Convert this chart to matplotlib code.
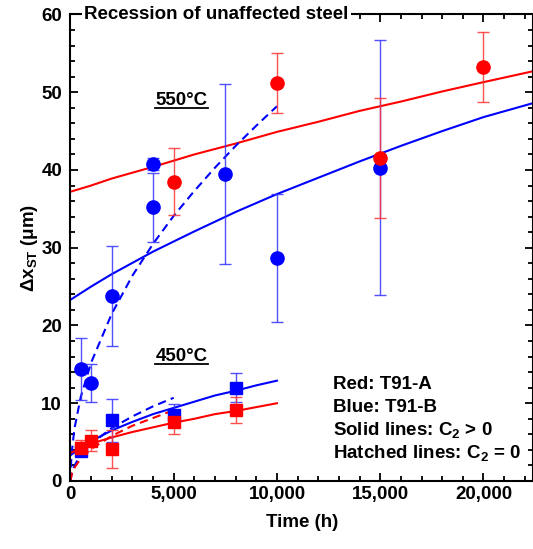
import matplotlib
matplotlib.use("Agg")
import matplotlib.pyplot as plt
from matplotlib.ticker import MultipleLocator, StrMethodFormatter
from matplotlib.lines import Line2D

plt.rcParams['font.family'] = ['Liberation Sans', 'DejaVu Sans']
plt.rcParams['font.weight'] = 'bold'
plt.rcParams['mathtext.fontset'] = 'custom'
plt.rcParams['mathtext.rm'] = 'Liberation Sans:bold'
plt.rcParams['mathtext.bf'] = 'Liberation Sans:bold'
plt.rcParams['mathtext.it'] = 'Liberation Sans:bold'

# measured recession at 550 C (time in h, recession in um, +/- error)
t_550_b = [500, 1000, 2000, 4000, 4000, 7500, 10000, 15000]
y_550_b = [14.4, 12.6, 23.8, 40.8, 35.2, 39.5, 28.7, 40.3]
e_550_b = [4.0, 2.5, 6.4, 0.8, 4.4, 11.6, 8.2, 16.4]

t_550_a = [5000, 10000, 15000, 20000]
y_550_a = [38.5, 51.2, 41.5, 53.2]
e_550_a = [4.3, 3.9, 7.7, 4.5]

# measured recession at 450 C
t_450_b = [500, 2000, 5000, 8000]
y_450_b = [3.9, 7.8, 8.5, 12.0]
e_450_b = [0.5, 2.8, 1.4, 1.9]

t_450_a = [500, 1000, 2000, 5000, 8000]
y_450_a = [4.3, 5.2, 4.1, 7.6, 9.1]
e_450_a = [1.0, 1.4, 2.4, 1.5, 1.65]

# fitted curves
fit_t_550 = [0, 1000, 2000, 4000, 6000, 8000, 10000, 12000, 14000, 16000, 18000, 20000, 22400]
fit_550_a = [37.2, 38.0, 38.9, 40.4, 42.0, 43.4, 44.9, 46.2, 47.6, 48.8, 50.1, 51.3, 52.7]
fit_550_b = [23.3, 25.0, 26.6, 29.5, 32.1, 34.6, 36.9, 39.0, 41.1, 43.1, 45.0, 46.8, 48.6]

dash_t_550 = [0, 50, 200, 500, 1000, 2000, 3000, 4000, 5000, 6000, 7000, 8000, 9000, 10000]
dash_550_b = [0, 3.4, 6.8, 10.8, 15.2, 21.5, 26.4, 30.5, 34.1, 37.3, 40.3, 43.1, 45.7, 48.2]

fit_t_450 = [0, 500, 1000, 2000, 3000, 4000, 5000, 6000, 7000, 8000, 9000, 10000]
fit_450_b = [3.3, 4.3, 5.1, 6.5, 7.6, 8.6, 9.4, 10.2, 11.0, 11.6, 12.3, 12.9]
fit_450_a = [3.6, 4.2, 4.8, 5.6, 6.3, 6.9, 7.5, 8.0, 8.6, 9.0, 9.5, 10.0]

dash_t_450 = [0, 100, 500, 1000, 2000, 3000, 4000, 5000]
dash_450_b = [0, 1.5, 3.4, 4.8, 6.8, 8.3, 9.6, 10.7]
dash_450_a = [0, 1.3, 2.9, 4.1, 5.8, 7.1, 8.1, 9.1]

legend_lines = ["Red: T91-A", "Blue: T91-B",
                r"Solid lines: C$_2$ > 0", r"Hatched lines: C$_2$ = 0"]

RED = (1, 0, 0)
BLUE = (0, 0, 1)
RED_E = (1, 0.2, 0.2, 0.85)
BLUE_E = (0.2, 0.2, 1, 0.85)

fig = plt.figure(figsize=(5.33, 5.49), dpi=100)
ax = fig.add_axes([0.1321, 0.1239, 0.868, 0.8497])

# fits
ax.plot(fit_t_550, fit_550_a, color=RED, lw=1.5, zorder=2)
ax.plot(fit_t_550, fit_550_b, color=BLUE, lw=1.5, zorder=2)
ax.plot(dash_t_550, dash_550_b, color=BLUE, lw=1.5, dashes=(4, 2.5), zorder=2)
ax.plot(fit_t_450, fit_450_b, color=BLUE, lw=1.5, zorder=2)
ax.plot(fit_t_450, fit_450_a, color=RED, lw=1.5, zorder=2)
ax.plot(dash_t_450, dash_450_b, color=BLUE, lw=1.5, dashes=(4, 2.5), zorder=2)
ax.plot(dash_t_450, dash_450_a, color=RED, lw=1.5, dashes=(4, 2.5), zorder=2)

# data
eb = dict(ls='none', elinewidth=1.0, capsize=4.5, capthick=1.0, zorder=3)
ax.errorbar(t_550_b, y_550_b, yerr=e_550_b, marker='o', ms=9.5, color=BLUE, ecolor=BLUE_E, **eb)
ax.errorbar(t_550_a, y_550_a, yerr=e_550_a, marker='o', ms=9.5, color=RED, ecolor=RED_E, **eb)
ax.errorbar(t_450_b, y_450_b, yerr=e_450_b, marker='s', ms=8.5, color=BLUE, ecolor=BLUE_E, **eb)
ax.errorbar(t_450_a, y_450_a, yerr=e_450_a, marker='s', ms=8.5, color=RED, ecolor=RED_E, **eb)

ax.set_xlim(0, 22400)
ax.set_ylim(0, 60)
ax.xaxis.set_major_locator(MultipleLocator(5000))
ax.xaxis.set_minor_locator(MultipleLocator(1000))
ax.yaxis.set_major_locator(MultipleLocator(10))
ax.yaxis.set_minor_locator(MultipleLocator(2))
ax.xaxis.set_major_formatter(StrMethodFormatter("{x:,.0f}"))
ax.tick_params(which='both', direction='in', top=True, right=True, width=1.3,
               labelsize=13.5)
ax.tick_params(which='major', length=6)
ax.tick_params(which='minor', length=3.5)
ax.tick_params(axis='y', pad=6)
for s in ax.spines.values():
    s.set_linewidth(1.5)

ax.set_xlabel("Time (h)", fontsize=13.5, fontweight='bold', labelpad=8)
ax.set_ylabel(r"Δx$_{\mathrm{ST}}$ (μm)", fontsize=13.5, fontweight='bold', labelpad=1)

ax.text(0.03, 1.0, "Recession of unaffected steel", transform=ax.transAxes,
        ha='left', va='center', fontsize=13.5, fontweight='bold', zorder=10,
        bbox=dict(fc='white', ec='none', pad=1.5))

temp_labels = [ax.text(5380, 48.3, "550°C", ha='center', va='baseline', fontsize=13.5),
               ax.text(5380, 15.4, "450°C", ha='center', va='baseline', fontsize=13.5)]

for i, line in enumerate(legend_lines):
    ax.text(12700, 11.8 - 2.95 * i, line, ha='left', va='baseline', fontsize=13.5)

# underline the temperature labels, just below the baseline
fig.canvas.draw()
inv = fig.transFigure.inverted()
for txt in temp_labels:
    bb = txt.get_window_extent()
    base = ax.transData.transform(txt.get_position())[1] - 3
    (x0, y0), (x1, _) = inv.transform([(bb.x0, base), (bb.x1, base)])
    fig.add_artist(Line2D([x0, x1], [y0, y0], color='black', lw=1.3, transform=fig.transFigure))

fig.savefig("out.png", dpi=100)
